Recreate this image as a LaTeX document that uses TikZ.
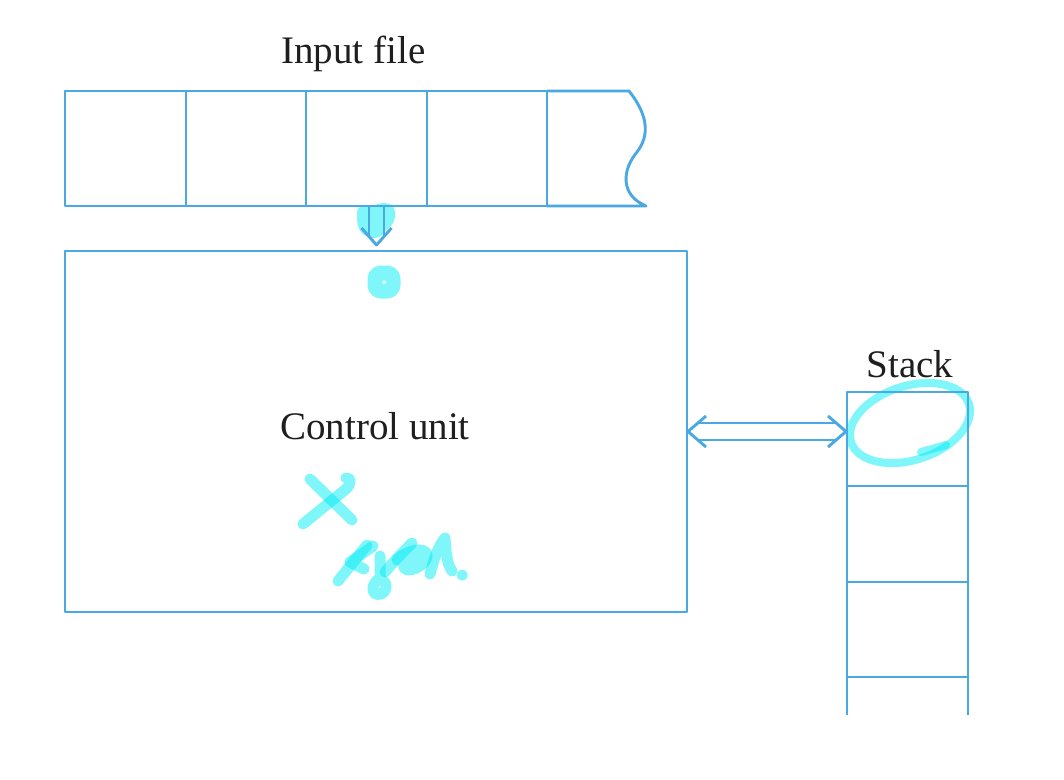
\documentclass[tikz,border=0pt]{standalone}
\usepackage{fontspec}
\setmainfont{Liberation Serif}
\usetikzlibrary{calc}
\definecolor{lineblue}{RGB}{74,168,226}
\definecolor{hlcyan}{RGB}{0,238,245}
\definecolor{txtgray}{RGB}{30,30,30}
\begin{document}
\begin{tikzpicture}[x=1pt,y=-1pt,
  ln/.style={draw=lineblue, line width=2.9pt, line join=round},
  cellbox/.style={ln, rectangle, inner sep=0pt, outer sep=0pt},
  lbl/.style={text=txtgray, inner sep=0pt, font=\fontsize{39}{44}\selectfont},
  hl/.style={draw=hlcyan, line width=11pt, line cap=round, line join=round, opacity=0.5},
  hlfill/.style={fill=hlcyan, opacity=0.5}]
\fill[white] (0,0) rectangle (1064,779);
\useasboundingbox (0,0) rectangle (1064,779);

% ---------- highlighter marks (behind the lines) ----------
\fill[hlfill] (357,215) .. controls (356,205) and (366,203) .. (372,207)
  .. controls (378,202) and (394,200) .. (395,212)
  .. controls (396,222) and (390,228) .. (386,230)
  .. controls (383,238) and (372,240) .. (366,236)
  .. controls (358,232) and (357,225) .. (357,215) -- cycle;
\draw[hl, line width=15pt, rounded corners=6pt] (375,273) rectangle (393,291);
\draw[hl] (310,479) -- (352,520);
\draw[hl] (346,478) .. controls (352,478) and (351,484) .. (346,489) -- (303,524);
\draw[hl] (338,581) -- (367,545);
\draw[hl] (373,546) .. controls (365,552) and (356,558) .. (350,562) -- (364,569);
\draw[hl] (380,556) -- (380,578) .. controls (370,584) and (371,597) .. (381,594) .. controls (389,590) and (387,582) .. (380,578);
\draw[hl] (385,572) .. controls (395,560) and (405,550) .. (412,543);
\draw[hl] (397,560) .. controls (405,551) and (424,546) .. (427,554) .. controls (429,563) and (412,573) .. (405,569) .. controls (400,563) and (410,557) .. (420,557);
\draw[hl] (430,574) .. controls (434,560) and (437,548) .. (445,538) .. controls (446,550) and (446,562) .. (452,571);
\draw[hl, line width=11pt] (462,575) -- (462.2,575.2);
\draw[hl, line width=8pt, rotate around={18:(910,423)}] (910,423) ellipse (62 and 37);
\draw[hl, line width=8pt] (921,452) -- (946,445);

% ---------- input tape ----------
\node[cellbox, minimum width=121, minimum height=115] (c1) at (125.5,148.5) {};
\node[cellbox, minimum width=120, minimum height=115] (c2) at (246,148.5) {};
\node[cellbox, minimum width=121, minimum height=115] (c3) at (366.5,148.5) {};
\node[cellbox, minimum width=120, minimum height=115] (c4) at (487,148.5) {};
\coordinate (tapeend) at (629,91);
\draw[ln] (c4.north east) -- (tapeend)
  .. controls (648,115) and (650,135) .. (637,152)
  .. controls (622,170) and (620,195) .. (646,206) -- (c4.south east);
\node[lbl, anchor=base] (inlbl) at (353.5,63) {Input file};

% ---------- control unit ----------
\node[cellbox, minimum width=622, minimum height=361] (cu) at (376,431.5) {};
\node[lbl, anchor=base] (culbl) at (375,439) {Control unit};

% ---------- stack ----------
\node[cellbox, minimum width=121, minimum height=94] (s1) at (907.5,439) {};
\node[cellbox, minimum width=121, minimum height=96] (s2) at (907.5,534) {};
\node[cellbox, minimum width=121, minimum height=95] (s3) at (907.5,629.5) {};
\draw[ln] (s3.south west) -- ++(0,38);
\draw[ln] (s3.south east) -- ++(0,38);
\node[lbl, anchor=base] (stlbl) at (910,377) {Stack};

% ---------- down double arrow: tape -> control unit ----------
\coordinate (dtop) at ([xshift=10pt]c3.south);
\coordinate (dtip) at ([xshift=10pt,yshift=6pt]c3.south |- cu.north);
\draw[ln] ($(dtop)+(-7.5,0)$) -- ($(dtip)+(-7.5,-8.5)$);
\draw[ln] ($(dtop)+(7.5,0)$) -- ($(dtip)+(7.5,-8.5)$);
\draw[ln] ($(dtip)+(-15,-17)$) -- (dtip) -- ($(dtip)+(15,-17)$);

% ---------- horizontal double arrow: control unit <-> stack ----------
\coordinate (la) at ([xshift=1pt]cu.east);
\coordinate (ra) at ([xshift=-1pt]cu.east -| s1.west);
\draw[ln] ($(la)+(10,-8.5)$) -- ($(ra)+(-10,-8.5)$);
\draw[ln] ($(la)+(10,8.5)$) -- ($(ra)+(-10,8.5)$);
\draw[ln] ($(la)+(18,-15.5)$) -- (la) -- ($(la)+(18,15.5)$);
\draw[ln] ($(ra)+(-18,-15.5)$) -- (ra) -- ($(ra)+(-18,15.5)$);
\end{tikzpicture}
\end{document}
